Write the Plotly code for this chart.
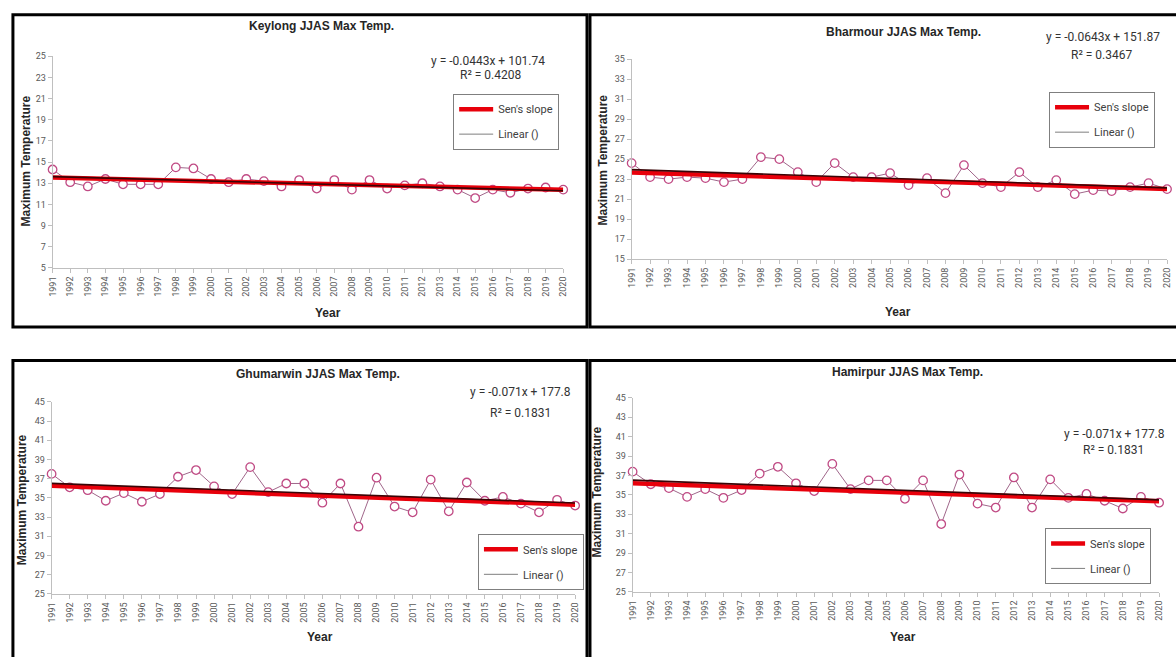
import numpy as np
import plotly.graph_objects as go

# ---------------- data ----------------
years = list(range(1991, 2021))
year_labels = [str(y) for y in years]

keylong = [14.3, 13.1, 12.7, 13.4, 12.9, 12.9, 12.9, 14.5, 14.4, 13.4,
           13.1, 13.4, 13.2, 12.7, 13.3, 12.5, 13.3, 12.4, 13.3, 12.5,
           12.8, 13.0, 12.7, 12.4, 11.6, 12.4, 12.1, 12.5, 12.6, 12.4]
bharmour = [24.6, 23.2, 23.0, 23.2, 23.1, 22.7, 23.0, 25.2, 25.0, 23.7,
            22.7, 24.6, 23.2, 23.2, 23.6, 22.4, 23.1, 21.6, 24.4, 22.6,
            22.2, 23.7, 22.2, 22.9, 21.5, 21.9, 21.8, 22.2, 22.6, 22.0]
ghumarwin = [37.5, 36.1, 35.8, 34.7, 35.5, 34.6, 35.4, 37.2, 37.9, 36.2,
             35.4, 38.2, 35.6, 36.5, 36.5, 34.5, 36.5, 32.0, 37.1, 34.1,
             33.5, 36.9, 33.6, 36.6, 34.7, 35.1, 34.4, 33.5, 34.8, 34.2]
hamirpur = [37.4, 36.1, 35.7, 34.8, 35.6, 34.7, 35.5, 37.2, 37.9, 36.2,
            35.4, 38.2, 35.6, 36.5, 36.5, 34.6, 36.5, 32.0, 37.1, 34.1,
            33.7, 36.8, 33.7, 36.6, 34.7, 35.1, 34.4, 33.6, 34.8, 34.2]

titles = ["Keylong JJAS Max Temp.", "Bharmour JJAS Max Temp.",
          "Ghumarwin JJAS Max Temp.", "Hamirpur JJAS Max Temp."]
equations = ["y = -0.0443x + 101.74", "y = -0.0643x + 151.87",
             "y = -0.071x + 177.8", "y = -0.071x + 177.8"]
r2_texts = ["R² = 0.4208", "R² = 0.3467", "R² = 0.1831", "R² = 0.1831"]
y_ranges = [(5, 25), (15, 35), (25, 45), (25, 45)]
series = [keylong, bharmour, ghumarwin, hamirpur]

# ---------------- layout (pixels) ----------------
W, H = 1176, 657
def px(x): return x / W
def py(y): return 1 - y / H

pos = [
    dict(xd=(48, 563), yd=(52, 267), title=(319, 21), eq=(487, 57), r2=(490, 71),
         ytitle=(21, 158), xtitle=(326, 313), leg=(452, 90)),
    dict(xd=(632, 1172), yd=(55, 258), title=(906, 27), eq=(1107, 32), r2=(1106, 51),
         ytitle=(603, 157), xtitle=(901, 312), leg=(1053, 88)),
    dict(xd=(47, 575), yd=(403, 598), title=(316, 375), eq=(520, 393), r2=(520, 414),
         ytitle=(18, 502), xtitle=(318, 642), leg=(477, 537)),
    dict(xd=(633, 1164), yd=(399, 596), title=(910, 373), eq=(1119, 436), r2=(1118, 452),
         ytitle=(598, 494), xtitle=(906, 642), leg=(1049, 531)),
]

def sens_slope(x, y):
    x = np.asarray(x, float); y = np.asarray(y, float)
    slopes = []
    for i in range(len(x)):
        for j in range(i + 1, len(x)):
            slopes.append((y[j] - y[i]) / (x[j] - x[i]))
    s = np.median(slopes)
    b = np.median(y - s * x)
    return s, b

fig = go.Figure()
layout = dict(width=W, height=H, margin=dict(l=0, r=0, t=0, b=0),
              paper_bgcolor="white", plot_bgcolor="white", showlegend=True)
annotations = []
shapes = []

TICKFONT = dict(family="Roboto", size=9, color="#595959")
TXT = "Roboto"
BOLD = "Liberation Sans"

def ann(x, y, text, size, family, color, angle=0):
    return dict(x=px(x), y=py(y), xref="paper", yref="paper", text=text,
                showarrow=False, xanchor="center", yanchor="middle",
                textangle=angle, font=dict(family=family, size=size, color=color))

for i, (data, p) in enumerate(zip(series, pos)):
    k = "" if i == 0 else str(i + 1)
    xa, ya = "x" + k, "y" + k
    leg = "legend" if i == 0 else "legend" + str(i + 1)

    # data series
    fig.add_trace(go.Scatter(
        x=years, y=data, xaxis=xa, yaxis=ya, mode="lines+markers",
        line=dict(color="#a0668a", width=1),
        marker=dict(symbol="circle", size=8.5, color="white",
                    line=dict(color="#c04a84", width=1.3)),
        showlegend=False, cliponaxis=False, hoverinfo="x+y"))

    # Sen's slope
    s, b = sens_slope(years, data)
    xs = [years[0], years[-1]]
    fig.add_trace(go.Scatter(
        x=xs, y=[s * v + b for v in xs], xaxis=xa, yaxis=ya, mode="lines",
        line=dict(color="#e8000b", width=4.5), name="Sen's slope",
        legend=leg, legendgroup=f"s{i}", cliponaxis=False))

    # linear trendline
    m, c = np.polyfit(years, data, 1)
    fig.add_trace(go.Scatter(
        x=xs, y=[m * v + c for v in xs], xaxis=xa, yaxis=ya, mode="lines",
        line=dict(color="#3a0406", width=1.6), showlegend=False, cliponaxis=False))

    # legend-only entry
    fig.add_trace(go.Scatter(
        x=[None], y=[None], xaxis=xa, yaxis=ya, mode="lines",
        line=dict(color="#7f7f7f", width=1), name="Linear ()",
        legend=leg, legendgroup=f"l{i}"))

    layout["xaxis" + k] = dict(
        domain=[px(p["xd"][0]), px(p["xd"][1])], anchor=ya,
        range=[years[0], years[-1]], tickmode="array", tickvals=years,
        ticktext=year_labels, tickangle=-90, ticks="outside", ticklen=4,
        tickcolor="#bfbfbf", showline=True, linecolor="#bfbfbf", linewidth=1,
        showgrid=False, zeroline=False, tickfont=TICKFONT)
    lo, hi = y_ranges[i]
    layout["yaxis" + k] = dict(
        domain=[py(p["yd"][1]), py(p["yd"][0])], anchor=xa,
        range=[lo, hi], tick0=lo, dtick=2, ticks="outside", ticklen=4,
        tickcolor="#bfbfbf", showline=True, linecolor="#bfbfbf", linewidth=1,
        showgrid=False, zeroline=False, tickfont=TICKFONT)

    layout[leg] = dict(
        x=px(p["leg"][0]), y=py(p["leg"][1]), xanchor="left", yanchor="top",
        xref="paper", yref="paper", bgcolor="white", bordercolor="#7f7f7f",
        borderwidth=1, font=dict(family=TXT, size=11, color="#404040"),
        itemwidth=34, traceorder="grouped", tracegroupgap=6)

    annotations += [
        ann(p["title"][0], p["title"][1], "<b>" + titles[i] + "</b>", 12, BOLD, "#262626"),
        ann(p["eq"][0], p["eq"][1], equations[i], 12, TXT, "#333333"),
        ann(p["r2"][0], p["r2"][1], r2_texts[i], 12, TXT, "#333333"),
        ann(p["ytitle"][0], p["ytitle"][1], "<b>Maximum Temperature</b>", 12, BOLD, "#262626", -90),
        ann(p["xtitle"][0], p["xtitle"][1], "<b>Year</b>", 12, BOLD, "#262626"),
    ]

# panel borders
borders = [(8, 10, 587, 327), (590, 10, 1185, 327), (8, 361, 587, 670), (590, 361, 1185, 670)]
for (x0, y0, x1, y1) in borders:
    shapes.append(dict(type="rect", xref="paper", yref="paper",
                       x0=px(x0), x1=px(x1), y0=py(y0), y1=py(y1),
                       line=dict(color="black", width=3), layer="above"))

layout["annotations"] = annotations
layout["shapes"] = shapes
fig.update_layout(**layout)
fig.write_html("out.html", config={"displayModeBar": False},
               post_script="document.body.style.margin='0';document.body.style.overflow='hidden';")
